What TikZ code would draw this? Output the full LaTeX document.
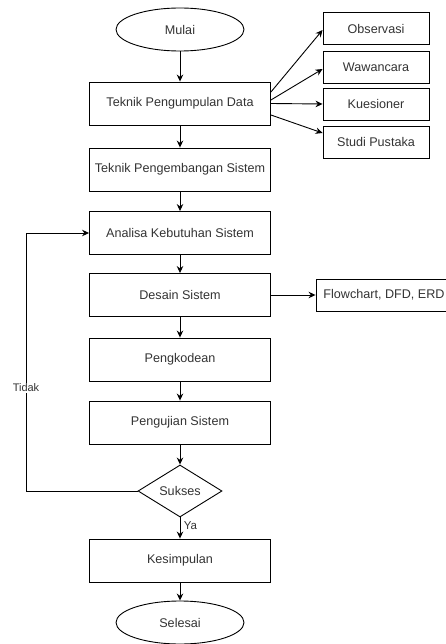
\documentclass[tikz,border=0pt]{standalone}
\usepackage{fontspec}
\setmainfont{Liberation Sans}
\usetikzlibrary{shapes.geometric,arrows.meta}

\begin{document}
\begin{tikzpicture}[
    x=1pt, y=-1pt,
    >={Stealth[length=7pt,width=6.5pt]},
    font=\fontsize{12.6}{15}\selectfont,
    text=black!80,
    box/.style={
        draw,
        line width=0.9pt,
        minimum width=181pt,
        minimum height=43pt,
        align=center
    },
    sidebox/.style={
        draw,
        line width=0.9pt,
        minimum width=106pt,
        minimum height=32pt
    },
    terminal/.style={
        draw,
        ellipse,
        line width=0.9pt,
        minimum width=128pt,
        minimum height=43pt,
        inner sep=0pt
    },
    decision/.style={
        draw,
        diamond,
        line width=0.9pt,
        aspect=1.6,
        minimum width=84pt,
        minimum height=52pt,
        inner sep=0pt
    },
    arrow/.style={
        ->,
        line width=0.9pt
    }]

\useasboundingbox (0,0) rectangle (445,644);

% Alur utama
\node[terminal] (mulai) at (180,29.5)
{Mulai};

\node[box] (pengumpulan) at (180,103.5)
{Teknik Pengumpulan Data};

\node[box] (pengembangan) at (180,169.5)
{Teknik Pengembangan Sistem};

\node[box] (analisa) at (180,233)
{Analisa Kebutuhan Sistem};

\node[box] (desain) at (180,295)
{Desain Sistem};

\node[box] (pengkodean) at (180,359.5)
{Pengkodean};

\node[box] (pengujian) at (180,422.5)
{Pengujian Sistem};

\node[decision] (sukses) at (180,491)
{Sukses};

\node[box] (kesimpulan) at (180,560.5)
{Kesimpulan};

\node[terminal] (selesai) at (180,622.5)
{Selesai};


% Kotak samping
\node[sidebox] (observasi) at (376,28.5)
{Observasi};

\node[sidebox] (wawancara) at (376,67)
{Wawancara};

\node[sidebox] (kuesioner) at (376,104)
{Kuesioner};

\node[sidebox] (studi) at (376,142)
{Studi Pustaka};

\node[sidebox, minimum width=136pt] (diagram) at (384,295)
{Flowchart, DFD, ERD};


% Panah
\draw[arrow] (mulai) -- (pengumpulan);
\draw[arrow] (pengumpulan) -- (pengembangan);
\draw[arrow] (pengembangan) -- (analisa);
\draw[arrow] (analisa) -- (desain);
\draw[arrow] (desain) -- (pengkodean);
\draw[arrow] (pengkodean) -- (pengujian);
\draw[arrow] (pengujian) -- (sukses);
\draw[arrow] (sukses) -- node[right, font=\fontsize{11.5}{13}\selectfont, pos=0.4] {Ya} (kesimpulan);
\draw[arrow] (kesimpulan) -- (selesai);

\draw[arrow]
([yshift=11.5pt]pengumpulan.east) -- ([yshift=-1.5pt]observasi.west);

\draw[arrow]
([yshift=3.5pt]pengumpulan.east) -- ([yshift=-2pt]wawancara.west);

\draw[arrow]
(pengumpulan.east) -- (kuesioner.west);

\draw[arrow]
([yshift=-11.5pt]pengumpulan.east) -- ([yshift=9pt]studi.west);

\draw[arrow] (desain) -- (diagram);


% Kembali jika tidak sukses
\coordinate (balik) at (26,491);

\draw[arrow]
(sukses.west) -- (balik)
-- node[fill=white, inner sep=1pt, pos=0.4, font=\fontsize{11}{13}\selectfont] {Tidak} (balik |- analisa)
-- (analisa.west);

\end{tikzpicture}
\end{document}
